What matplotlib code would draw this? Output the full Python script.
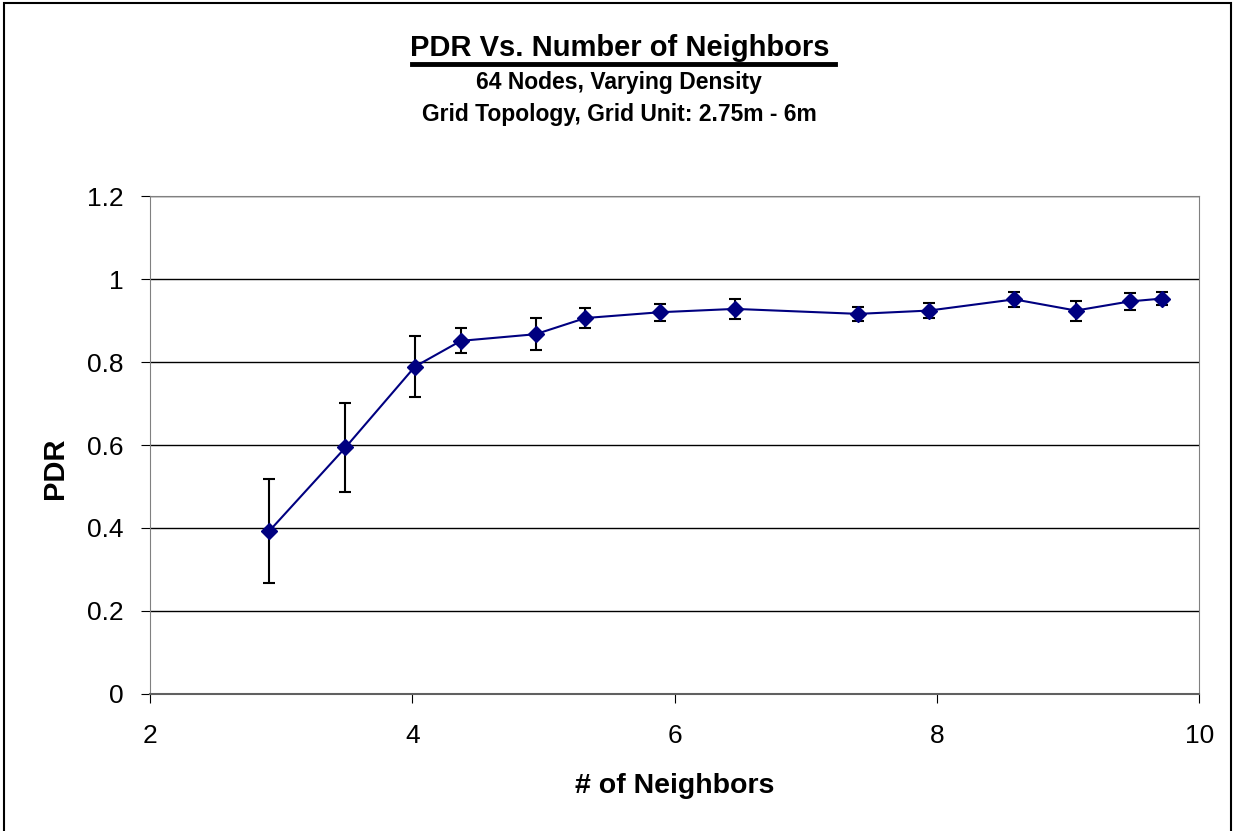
import matplotlib
matplotlib.use("Agg")
import matplotlib.pyplot as plt
from matplotlib.lines import Line2D
from matplotlib.patches import Rectangle

# data
neighbors = [2.91, 3.49, 4.02, 4.37, 4.94, 5.32, 5.89, 6.46, 7.40, 7.94, 8.59, 9.06, 9.47, 9.72]
pdr = [0.393, 0.594, 0.789, 0.851, 0.867, 0.906, 0.920, 0.928, 0.916, 0.924, 0.951, 0.924, 0.946, 0.953]
pdr_err = [0.125, 0.107, 0.074, 0.030, 0.039, 0.024, 0.020, 0.024, 0.016, 0.018, 0.018, 0.024, 0.020, 0.016]

x_ticks = [2, 4, 6, 8, 10]
y_ticks = [0, 0.2, 0.4, 0.6, 0.8, 1, 1.2]
y_tick_labels = ["0", "0.2", "0.4", "0.6", "0.8", "1", "1.2"]

plt.rcParams['font.family'] = ['Liberation Sans', 'DejaVu Sans']

fig = plt.figure(figsize=(12.35, 8.31), dpi=100)
ax = fig.add_axes([0.1215, 0.1649, 0.8495, 0.5992])

# outer chart frame (bottom edge runs off the image)
fig.patches.append(Rectangle((0.003, -0.02), 0.994, 1.016, transform=fig.transFigure,
                             fill=False, edgecolor='black', lw=1.5))

ax.errorbar(neighbors, pdr, yerr=pdr_err, color='#000080', lw=1.5,
            marker='D', markersize=8, ecolor='black', elinewidth=1.5,
            capsize=4.5, capthick=1.5, zorder=3)

ax.set_xlim(2, 10)
ax.set_ylim(0, 1.2)
ax.set_xticks(x_ticks)
ax.set_yticks(y_ticks)
ax.set_yticklabels(y_tick_labels)
ax.tick_params(axis='both', labelsize=19, length=6.5, direction='out')
ax.tick_params(axis='x', pad=15)
ax.tick_params(axis='y', pad=12.5)
ax.yaxis.grid(True, color='black', lw=1)
ax.set_axisbelow(True)
for s in ['top', 'right', 'left']:
    ax.spines[s].set_color('#808080')
ax.spines['bottom'].set_color('#606060')
ax.spines['bottom'].set_linewidth(1.5)

ax.set_xlabel('# of Neighbors', fontsize=20.5, fontweight='bold', labelpad=18)
ax.set_ylabel('PDR', fontsize=21, fontweight='bold', labelpad=13, y=0.454)

# titles
fig.text(0.5015, 0.942, 'PDR Vs. Number of Neighbors', ha='center', va='center',
         fontsize=21, fontweight='bold')
fig.lines.append(Line2D([0.3336, 0.6761], [0.9234, 0.9234], transform=fig.transFigure,
                        color='black', lw=3.5))
fig.text(0.5015, 0.901, '64 Nodes, Varying Density', ha='center', va='center',
         fontsize=16.5, fontweight='bold')
fig.text(0.5015, 0.862, 'Grid Topology, Grid Unit: 2.75m - 6m', ha='center', va='center',
         fontsize=16.5, fontweight='bold')

fig.savefig('out.png', dpi=100)
